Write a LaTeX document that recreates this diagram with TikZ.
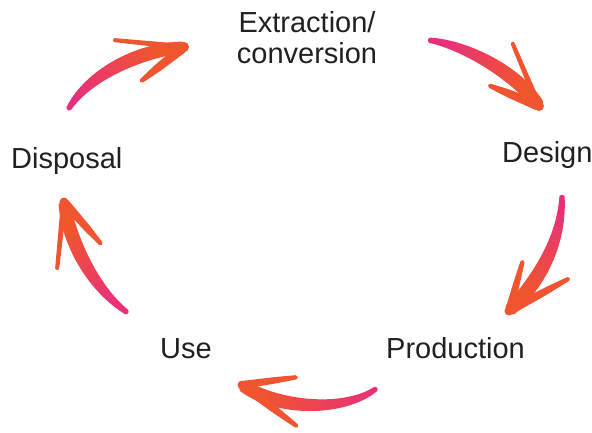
\documentclass[tikz,border=0pt]{standalone}
\usepackage{fontspec}
\setmainfont{Liberation Sans}
\usetikzlibrary{calc}
\definecolor{pinkc}{RGB}{232,48,122}
\definecolor{orangec}{RGB}{241,90,36}
\definecolor{txtc}{RGB}{35,31,32}
\definecolor{barbc}{RGB}{240,84,48}
% #1 tail, #2 c1, #3 c2, #4 tip, #5 shading angle, #6 w at c1, #7 w at c2, #8 half tip width, #9 half tail width
\newcommand\brushbody[9]{%
  \shade[bottom color=pinkc, top color=orangec, shading angle=#5, rounded corners=1.5pt]
   ($(#1)!#9!90:(#2)$) .. controls ($(#2)!#6!90:(#3)$) and ($(#3)!#7!90:(#4)$) .. ($(#4)!#8!-90:(#3)$)
   -- ($(#4)!#8!90:(#3)$) .. controls ($(#3)!#7!-90:(#4)$) and ($(#2)!#6!-90:(#3)$) .. ($(#1)!#9!-90:(#2)$) -- cycle;
}
% #1 tip, #2 end, #3 half width at tip
\newcommand\brushbarb[3]{%
  \coordinate (bm) at ($(#1)!0.6!(#2)$);
  \fill[barbc, rounded corners=2pt] ($(#1)!#3!90:(#2)$) -- ($(bm)!0.8*#3!-90:(#1)$) -- ($(#2)!2pt!-90:(#1)$) -- ($(#2)!2pt!90:(#1)$) -- ($(bm)!0.8*#3!90:(#1)$) -- ($(#1)!#3!-90:(#2)$) -- cycle;
  \fill[barbc] (#1) circle[radius=#3];
}
\tikzset{txt/.style={font=\fontsize{29}{31}\selectfont, text=txtc, inner sep=0pt}}
\begin{document}
\begin{tikzpicture}[x=1pt,y=-1pt]
\useasboundingbox (0,0) rectangle (592,433);
% labels
\node[txt, anchor=base, align=center] (extr) at (307,64) {Extraction/\\conversion};
\node[txt, anchor=base west] (design) at (502,163) {Design};
\node[txt, anchor=base west] (prod) at (386,358) {Production};
\node[txt, anchor=base west] (use) at (160,358) {Use};
\node[txt, anchor=base west] (disp) at (11,169) {Disposal};
% arrow 1 (Disposal -> Extraction)
\coordinate (a1t) at (68,110); \coordinate (a1a) at (85,80); \coordinate (a1b) at (130,52); \coordinate (a1p) at (184,47);
\brushbody{a1t}{a1a}{a1b}{a1p}{-61.5}{6pt}{9pt}{5.5pt}{2.5pt}
\coordinate (a1u) at (113,40); \coordinate (a1l) at (140,82);
\brushbarb{a1p}{a1u}{3pt}
\brushbarb{a1p}{a1l}{5pt}
% arrow 2 (Extraction -> Design)
\coordinate (a2t) at (428,40); \coordinate (a2a) at (465,45); \coordinate (a2b) at (515,72); \coordinate (a2p) at (539,106);
\brushbody{a2t}{a2a}{a2b}{a2p}{-121}{6pt}{9pt}{6pt}{2.5pt}
\coordinate (a2u) at (512,42); \coordinate (a2l) at (488,85);
\brushbarb{a2p}{a2u}{3pt}
\brushbarb{a2p}{a2l}{5pt}
% arrow 3 (Design -> Production)
\coordinate (a3t) at (562,195); \coordinate (a3a) at (562,240); \coordinate (a3b) at (540,280); \coordinate (a3p) at (509,311);
\brushbody{a3t}{a3a}{a3b}{a3p}{155}{6pt}{9pt}{6pt}{2.5pt}
\coordinate (a3u) at (523,260); \coordinate (a3l) at (570,278);
\brushbarb{a3p}{a3u}{4pt}
\brushbarb{a3p}{a3l}{4.5pt}
% arrow 4 (Production -> Use)
\coordinate (a4t) at (377,388); \coordinate (a4a) at (345,412); \coordinate (a4b) at (280,410); \coordinate (a4p) at (242,385);
\brushbody{a4t}{a4a}{a4b}{a4p}{88.3}{6pt}{9pt}{6pt}{2.5pt}
\coordinate (a4u) at (298,377); \coordinate (a4l) at (298,427);
\brushbarb{a4p}{a4u}{4pt}
\brushbarb{a4p}{a4l}{4.5pt}
% arrow 5 (Use -> Disposal)
\coordinate (a5t) at (128,313); \coordinate (a5a) at (95,290); \coordinate (a5b) at (70,245); \coordinate (a5p) at (64,202);
\brushbody{a5t}{a5a}{a5b}{a5p}{29.9}{6pt}{9pt}{5.5pt}{2.5pt}
\coordinate (a5u) at (57,270); \coordinate (a5l) at (102,245);
\brushbarb{a5p}{a5u}{3pt}
\brushbarb{a5p}{a5l}{4.5pt}
\end{tikzpicture}
\end{document}
